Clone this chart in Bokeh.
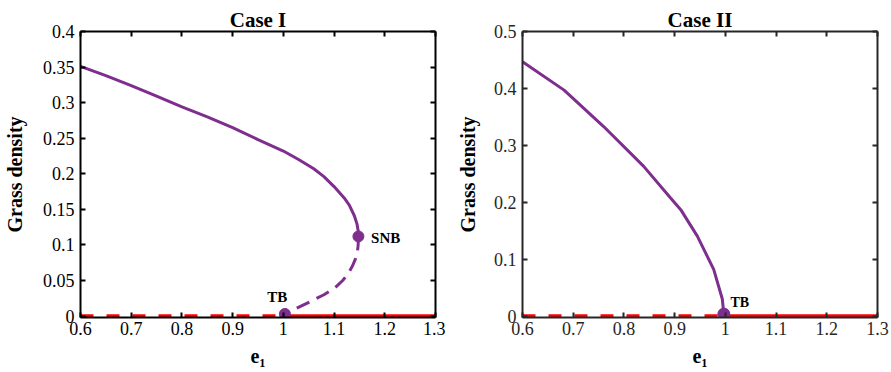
from bokeh.plotting import figure
from bokeh.models import LinearAxis, FixedTicker, Range1d, CustomJSTickFormatter
from bokeh.layouts import row
from bokeh.core.properties import value
from bokeh.embed import file_html
from bokeh.resources import INLINE

# ---------------- data ----------------
x_ticks = [0.6, 0.7, 0.8, 0.9, 1.0, 1.1, 1.2, 1.3]
x_tick_labels = ["0.6", "0.7", "0.8", "0.9", "1", "1.1", "1.2", "1.3"]

y_ticks_1 = [0, 0.05, 0.1, 0.15, 0.2, 0.25, 0.3, 0.35, 0.4]
y_tick_labels_1 = ["0", "0.05", "0.1", "0.15", "0.2", "0.25", "0.3", "0.35", "0.4"]
y_ticks_2 = [0, 0.1, 0.2, 0.3, 0.4, 0.5]
y_tick_labels_2 = ["0", "0.1", "0.2", "0.3", "0.4", "0.5"]

# Case I: stable upper branch (solid)
c1_up_e1 = [0.600, 0.650, 0.700, 0.750, 0.800, 0.850, 0.900, 0.950, 1.000, 1.030,
            1.060, 1.080, 1.100, 1.120, 1.130, 1.140, 1.145, 1.1475, 1.148]
c1_up_g = [0.351, 0.338, 0.324, 0.309, 0.294, 0.280, 0.265, 0.248, 0.232, 0.220,
           0.207, 0.196, 0.182, 0.166, 0.156, 0.141, 0.130, 0.120, 0.112]
# Case I: unstable lower branch (dashed)
c1_lo_e1 = [1.148, 1.1475, 1.146, 1.142, 1.136, 1.128, 1.117, 1.102, 1.080, 1.052, 1.023, 1.003]
c1_lo_g = [0.112, 0.100, 0.090, 0.080, 0.070, 0.060, 0.050, 0.040, 0.030, 0.020, 0.010, 0.003]
# zero (grass-free) branch
zero_unstable_e1 = [0.6, 1.0]
zero_stable_e1 = [1.0, 1.3]
zero_g = [0.0, 0.0]
# bifurcation points Case I
c1_snb = (1.148, 0.112)
c1_tb = (1.003, 0.003)

# Case II: stable branch
c2_e1 = [0.600, 0.682, 0.760, 0.839, 0.892, 0.912, 0.945, 0.977, 0.994, 0.997]
c2_g = [0.447, 0.397, 0.333, 0.263, 0.2075, 0.187, 0.140, 0.082, 0.030, 0.0035]
c2_tb = (0.997, 0.0035)

PURPLE = "#7E2F8E"
RED = "#FF0000"
SERIF = "Liberation Serif"

FMT_CODE = """
for (let i = 0; i < tv.length; i++) {
    if (Math.abs(tv[i] - tick) < 1e-9) { return tl[i]; }
}
return "";
"""


def style_axis(ax, color):
    ax.major_tick_in = 5
    ax.major_tick_out = 0
    ax.minor_tick_in = 5
    ax.minor_tick_out = 0
    ax.axis_line_width = 2
    ax.axis_line_color = color
    ax.major_tick_line_width = 2
    ax.major_tick_line_color = color
    ax.minor_tick_line_width = 2
    ax.minor_tick_line_color = color
    ax.major_label_text_font = SERIF
    ax.major_label_text_color = color
    ax.major_label_text_font_size = "18px"


def make_fig(title, width, bl, br, yticks, ylabels, ymin, ymax, color, ylab_standoff):
    p = figure(width=width, height=369, output_backend="svg", toolbar_location=None,
               x_range=Range1d(0.6, 1.3), y_range=Range1d(ymin, ymax),
               min_border_left=bl, min_border_right=br, min_border_top=31,
               min_border_bottom=40)
    p.outline_line_color = None
    p.xgrid.visible = False
    p.ygrid.visible = False
    p.title.text = title
    p.title.text_font = SERIF
    p.title.text_font_style = "bold"
    p.title.text_font_size = "21px"
    p.title.align = "center"
    p.title.standoff = 0
    p.title.offset = 0
    p.title.text_color = "black"

    xa = p.xaxis[0]
    ya = p.yaxis[0]
    xa.ticker = FixedTicker(ticks=x_ticks)
    ya.ticker = FixedTicker(ticks=yticks)
    xa.formatter = CustomJSTickFormatter(args=dict(tv=x_ticks, tl=x_tick_labels),
                                         code=FMT_CODE)
    ya.formatter = CustomJSTickFormatter(args=dict(tv=yticks, tl=ylabels),
                                         code=FMT_CODE)
    style_axis(xa, color)
    style_axis(ya, color)
    xa.major_label_standoff = 4
    ya.major_label_standoff = 6
    xa.axis_label = "e\u2081"
    ya.axis_label = "Grass density"
    for a in (xa, ya):
        a.axis_label_text_font = SERIF
        a.axis_label_text_font_style = "bold"
        a.axis_label_text_font_size = "20px"
        a.axis_label_text_color = "black"
    xa.axis_label_standoff = 7
    ya.axis_label_standoff = ylab_standoff

    # mirror axes (ticks only, no labels) on top and right
    top = LinearAxis(ticker=FixedTicker(ticks=[], minor_ticks=x_ticks))
    right = LinearAxis(ticker=FixedTicker(ticks=[], minor_ticks=yticks))
    for a in (top, right):
        style_axis(a, color)
        a.major_label_standoff = 0
    p.add_layout(top, "above")
    p.add_layout(right, "right")
    return p


# ---------- Case I ----------
p1 = make_fig("Case I", 445, 80, 10, y_ticks_1, y_tick_labels_1, -0.002, 0.4, "black", 14)
p1.line(zero_unstable_e1, zero_g, line_color=RED, line_width=3.5, line_dash="13 13")
p1.line(zero_stable_e1, zero_g, line_color=RED, line_width=3.5)
p1.line(c1_up_e1, c1_up_g, line_color=PURPLE, line_width=3)
p1.line(c1_lo_e1, c1_lo_g, line_color=PURPLE, line_width=3, line_dash="14 8")
p1.scatter([c1_snb[0], c1_tb[0]], [c1_snb[1], c1_tb[1]], size=11,
           fill_color=PURPLE, line_color=PURPLE)
p1.text([0.988], [0.0266], text=["TB"], text_font=value(SERIF), text_font_style="bold",
        text_font_size="15px", text_align="center", text_baseline="middle", text_color="black")
p1.text([1.173], [0.110], text=["SNB"], text_font=value(SERIF), text_font_style="bold",
        text_font_size="15px", text_align="left", text_baseline="middle", text_color="black")

# ---------- Case II ----------
p2 = make_fig("Case II", 446, 77, 14, y_ticks_2, y_tick_labels_2, -0.0025, 0.5, "#262626", 12)
p2.line(zero_unstable_e1, zero_g, line_color=RED, line_width=3.5, line_dash="13 13")
p2.line(zero_stable_e1, zero_g, line_color=RED, line_width=3.5)
p2.line(c2_e1, c2_g, line_color=PURPLE, line_width=3)
p2.scatter([c2_tb[0]], [c2_tb[1]], size=12, fill_color=PURPLE, line_color=PURPLE)
p2.text([1.010], [0.0245], text=["TB"], text_font=value(SERIF), text_font_style="bold",
        text_font_size="14px", text_align="left", text_baseline="middle", text_color="black")

layout = row(p1, p2)
open("out.html", "w").write(file_html(layout, INLINE))
